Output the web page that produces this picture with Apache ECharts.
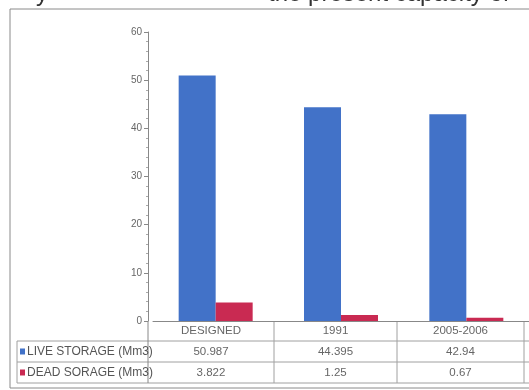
<!DOCTYPE html>
<html>
<head>
<meta charset="utf-8">
<script src="https://cdn.jsdelivr.net/npm/echarts@6/dist/echarts.min.js"></script>
<style>
  html, body { margin: 0; padding: 0; background: #fff; }
  #main { width: 529px; height: 390px; }
</style>
</head>
<body>
<div id="main"></div>
<script>
var categories = ['DESIGNED', '1991', '2005-2006'];
var liveStorage = [50.987, 44.395, 42.94];
var deadStorage = [3.822, 1.25, 0.67];
var liveLabels = ['50.987', '44.395', '42.94'];
var deadLabels = ['3.822', '1.25', '0.67'];
var seriesNames = ['LIVE STORAGE (Mm3)', 'DEAD SORAGE (Mm3)'];
var colors = ['#4272c8', '#c92a52'];

// table layout (px)
var tblLeft = 17, axisX = 148;
var colEdges = [148, 274, 397, 524];
var rowEdges = [321, 341, 362, 383];
var lineColor = '#a0a0a0';
var font = '"Liberation Sans", Arial, sans-serif';

var myChart = echarts.init(document.getElementById('main'));

var g = [];
// cut-off heading above the frame
g.push({type: 'text', left: 36, top: -18, style: {text: 'y', font: '24px ' + font, fill: '#333'}});
g.push({type: 'text', left: 268, top: -18, style: {text: 'the present capacity of', font: '24px ' + font, fill: '#333'}});
// outer frame
g.push({type: 'rect', shape: {x: 10, y: 9, width: 540, height: 379}, style: {fill: 'none', stroke: '#8a8a8a', lineWidth: 1}, z: 0});
// horizontal table lines
for (var r = 1; r < rowEdges.length; r++) {
    g.push({type: 'line', shape: {x1: tblLeft, y1: rowEdges[r], x2: 529, y2: rowEdges[r]}, style: {stroke: lineColor}});
}
g.push({type: 'line', shape: {x1: tblLeft, y1: rowEdges[1], x2: tblLeft, y2: rowEdges[3]}, style: {stroke: lineColor}});
// vertical table lines
colEdges.forEach(function (x) {
    g.push({type: 'line', shape: {x1: x, y1: rowEdges[0], x2: x, y2: rowEdges[3]}, style: {stroke: x === axisX ? '#888' : lineColor}});
});
// category row + values
categories.forEach(function (c, i) {
    var cx = (colEdges[i] + colEdges[i + 1]) / 2;
    g.push({type: 'text', x: cx, y: (rowEdges[0] + rowEdges[1]) / 2, style: {text: c, font: '11.5px ' + font, fill: '#666', align: 'center', verticalAlign: 'middle'}});
    g.push({type: 'text', x: cx, y: (rowEdges[1] + rowEdges[2]) / 2, style: {text: liveLabels[i], font: '11.5px ' + font, fill: '#666', align: 'center', verticalAlign: 'middle'}});
    g.push({type: 'text', x: cx, y: (rowEdges[2] + rowEdges[3]) / 2, style: {text: deadLabels[i], font: '11.5px ' + font, fill: '#666', align: 'center', verticalAlign: 'middle'}});
});
// legend keys in the table
seriesNames.forEach(function (n, i) {
    var cy = (rowEdges[i + 1] + rowEdges[i + 2]) / 2;
    g.push({type: 'rect', shape: {x: 20, y: cy - 3, width: 5, height: 6}, style: {fill: colors[i]}});
    g.push({type: 'text', x: 27, y: cy, style: {text: n, font: '12px ' + font, fill: '#555', verticalAlign: 'middle'}, z: 10});
});

var option = {
    animation: false,
    color: colors,
    grid: {left: 153, right: -3, top: 32, bottom: 69},
    xAxis: {
        type: 'category',
        data: categories,
        axisLine: {lineStyle: {color: '#888'}},
        axisTick: {show: false},
        axisLabel: {show: false}
    },
    yAxis: {
        type: 'value',
        min: 0,
        max: 60,
        interval: 10,
        offset: 5,
        axisLine: {show: true, lineStyle: {color: '#888'}},
        axisTick: {show: true, length: 4, lineStyle: {color: '#888'}},
        minorTick: {show: true, splitNumber: 5, length: 2, lineStyle: {color: '#aaa'}},
        splitLine: {show: false},
        axisLabel: {color: '#666', fontSize: 10, fontFamily: font, margin: 6}
    },
    series: [
        {name: seriesNames[0], type: 'bar', data: liveStorage, barWidth: 37, barGap: '0%'},
        {name: seriesNames[1], type: 'bar', data: deadStorage, barWidth: 37}
    ],
    graphic: g
};
myChart.setOption(option);
</script>
</body>
</html>
